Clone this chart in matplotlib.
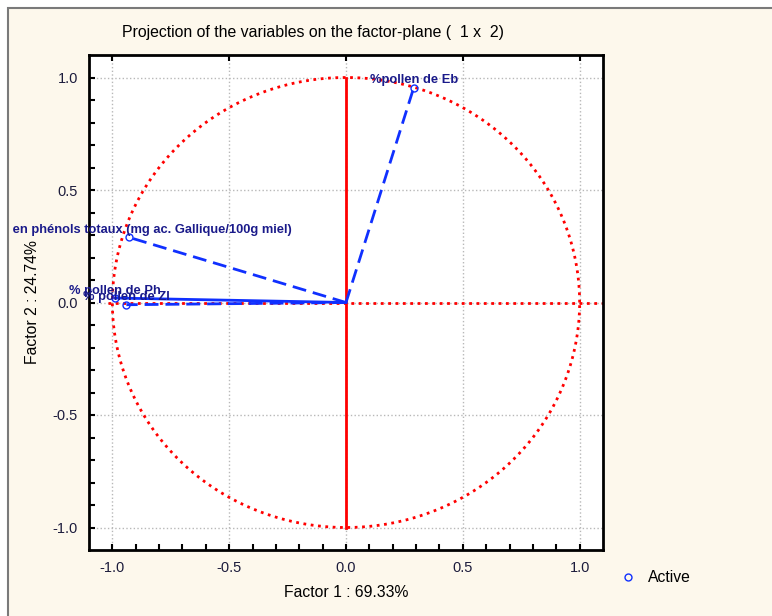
import numpy as np
import matplotlib.pyplot as plt
from matplotlib.lines import Line2D
from matplotlib.patches import Rectangle
from matplotlib.transforms import Bbox, TransformedBbox

plt.rcParams['font.family'] = ['Liberation Sans', 'DejaVu Sans']

# variable coordinates on factor 1 / factor 2
var_names = ["%pollen de Eb",
             "Teneur en phénols totaux (mg ac. Gallique/100g miel)",
             "% pollen de Ph",
             "% pollen de Zl"]
factor1 = [0.29, -0.927, -0.99, -0.94]
factor2 = [0.955, 0.289, 0.02, -0.01]
var_lines = ['--', '--', '-', '--']

title = "Projection of the variables on the factor-plane (  1 x  2)"
xlabel = "Factor 1 : 69.33%"
ylabel = "Factor 2 : 24.74%"
legend_label = "Active"

W, H = 772, 616
fig = plt.figure(figsize=(W / 100, H / 100), dpi=100, facecolor='white')

# cream panel with grey border, like the statistica window
fig.patches.append(Rectangle((8 / W, -0.01), 1.02, 1 - 8 / H + 0.01, transform=fig.transFigure,
                             facecolor='#fdf8ec', edgecolor='#7a7a7a', lw=1.5, zorder=-10))

ax = fig.add_axes([89 / W, 1 - 550 / H, (603 - 89) / W, (550 - 55) / H])
ax.set_facecolor('white')
ax.set_xlim(-1.1, 1.1)
ax.set_ylim(-1.1, 1.1)

# unit circle and axes
th = np.linspace(0, 2 * np.pi, 400)
ax.plot(np.cos(th), np.sin(th), color='#ff0000', ls=':', lw=2, zorder=2)
ax.plot([0, 0], [-1, 1], color='#ff0000', lw=2, zorder=2)
ax.plot([-1.02, 1.1], [0, 0], color='#ff0000', ls=':', lw=2, zorder=2)

clip = TransformedBbox(Bbox([[10 / W, 0], [1, 1]]), fig.transFigure)
for name, x, y, ls in zip(var_names, factor1, factor2, var_lines):
    ax.plot([0, x], [0, y], color='#1030ff', ls=ls, lw=2, dashes=(5, 2.5) if ls == '--' else (None, None), zorder=3)
    ax.plot(x, y, 'o', mfc='none', mec='#1030ff', ms=5, mew=1, zorder=4)
    t = ax.annotate(name, (x, y), xytext=(0, 1), textcoords='offset points', ha='center', va='bottom',
                    fontsize=9.3, fontweight='bold', color='#1a1a8a', zorder=5, annotation_clip=False)
    t.set_clip_box(clip)
    t.set_clip_on(True)

ax.set_xticks(np.arange(-1.0, 1.01, 0.5))
ax.set_yticks(np.arange(-1.0, 1.01, 0.5))
ax.set_xticks(np.arange(-1.0, 1.01, 0.1), minor=True)
ax.set_yticks(np.arange(-1.0, 1.01, 0.1), minor=True)
ax.tick_params(which='both', direction='in', length=4, width=1.5, top=True, right=False,
               labelsize=10.5, labelcolor='#1c1c3c', pad=8)
ax.tick_params(which='minor', top=False)
ax.xaxis.set_major_formatter(plt.FuncFormatter(lambda v, p: "%.1f" % v))
ax.yaxis.set_major_formatter(plt.FuncFormatter(lambda v, p: "%.1f" % v))
ax.grid(True, which='major', color='#b8b8b8', ls=':', lw=1)
ax.set_axisbelow(True)
for s in ax.spines.values():
    s.set_linewidth(2)

ax.set_xlabel(xlabel, fontsize=11.3, labelpad=7)
ax.set_ylabel(ylabel, fontsize=11.3, labelpad=9)
fig.text(122 / W, 1 - 33 / H, title, fontsize=11.4, ha='left', va='center')

ax.legend(handles=[Line2D([], [], marker='o', ls='none', mfc='none', mec='#1030ff', ms=5)],
          labels=[legend_label], loc='center left', bbox_to_anchor=(598 / W, 1 - 578 / H),
          bbox_transform=fig.transFigure, frameon=False, fontsize=11.3, handletextpad=0.3)

fig.savefig('out.png', dpi=100, facecolor=fig.get_facecolor())
